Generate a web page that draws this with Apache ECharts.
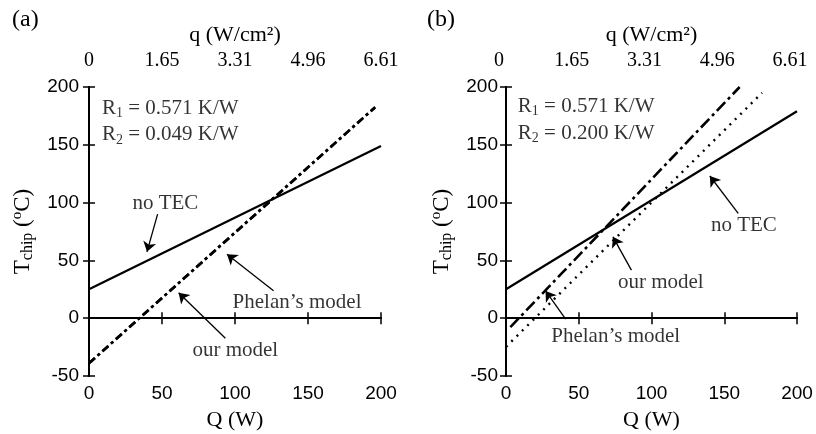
<!DOCTYPE html>
<html>
<head>
<meta charset="utf-8">
<script src="https://cdn.jsdelivr.net/npm/echarts@6/dist/echarts.min.js"></script>
<style>
  html, body { margin: 0; padding: 0; background: #fff; }
  #chart { width: 816px; height: 434px; }
</style>
</head>
<body>
<div id="chart"></div>
<script>
// Chip temperature versus heat load Q, with and without a thermoelectric cooler.
// Panel (a): R2 = 0.049 K/W, panel (b): R2 = 0.200 K/W.

// Top-axis heat flux labels (q = Q / chip area) at Q = 0, 50, 100, 150, 200 W
const qTickLabels = ['0', '1.65', '3.31', '4.96', '6.61'];

// Panel (a)
const aNoTecQ = [0, 200];
const aNoTecT = [25, 149];
const aModelQ = [0, 196];
const aOurModelT = [-39, 182.5];
const aPhelanT = [-39, 182.5];

// Panel (b)
const bNoTecQ = [0, 200];
const bNoTecT = [25, 179];
const bOurModelQ = [0, 176];
const bOurModelT = [-24.8, 195];
const bPhelanQ = [3, 160.6];
const bPhelanT = [-7.7, 200];

const SERIF = 'Liberation Serif';
const SANS = 'Liberation Sans';
const pts = (xs, ys) => xs.map((x, i) => [x, ys[i]]);

const chart = echarts.init(document.getElementById('chart'), null, { renderer: 'canvas' });

const frameLine = { lineStyle: { color: '#000', width: 2 } };
const inTick = { show: true, inside: true, length: 6, lineStyle: { color: '#000', width: 1.5 } };

function bottomAxis(grid) {
  return {
    type: 'value', gridIndex: grid, position: 'bottom', min: 0, max: 200, interval: 50,
    axisLine: frameLine, axisTick: inTick, splitLine: { show: false },
    axisLabel: { fontFamily: SANS, fontSize: 19, color: '#000', margin: 8 },
    name: 'Q (W)', nameLocation: 'middle', nameGap: 33,
    nameTextStyle: { fontFamily: SERIF, fontSize: 22, color: '#000' }
  };
}
function topAxis(grid, shift) {
  return {
    type: 'value', gridIndex: grid, position: 'top', min: 0, max: 200, interval: 50,
    axisLine: frameLine, axisTick: inTick, splitLine: { show: false },
    axisLabel: {
      fontFamily: SERIF, fontSize: 20, color: '#000', margin: 16,
      padding: [0, shift, 0, 0],
      formatter: v => qTickLabels[Math.round(v / 50)]
    },
    name: 'q (W/cm²)', nameLocation: 'middle', nameGap: 36,
    nameTextStyle: { fontFamily: SERIF, fontSize: 22, color: '#000' }
  };
}
function leftAxis(grid, gap, margin) {
  return {
    type: 'value', gridIndex: grid, position: 'left', min: -50, max: 200, interval: 50,
    axisLine: frameLine, axisTick: inTick, splitLine: { show: false },
    axisLabel: { fontFamily: SANS, fontSize: 19, color: '#000', margin: margin },
    name: '{m|T}{sub|chip}{m| (}{sup|o}{m|C)}', nameLocation: 'middle', nameGap: gap,
    nameTextStyle: {
      color: '#000',
      rich: {
        m: { fontFamily: SERIF, fontSize: 23, lineHeight: 26, verticalAlign: 'middle', color: '#000' },
        sub: { fontFamily: SERIF, fontSize: 16, lineHeight: 16, verticalAlign: 'bottom', padding: [12, 0, 0, 0], color: '#000' },
        sup: { fontFamily: SERIF, fontSize: 15, lineHeight: 15, verticalAlign: 'top', color: '#000' }
      }
    }
  };
}
function rightAxis(grid) {
  return {
    type: 'value', gridIndex: grid, position: 'right', min: -50, max: 200, interval: 50,
    axisLine: frameLine, axisTick: inTick, splitLine: { show: false },
    axisLabel: { show: false }
  };
}

const curveStyle = (type, width) => ({ color: '#000', width: width, type: type });

function arrows(list) {
  return {
    silent: true, symbol: ['none', 'arrow'], symbolSize: 10, animation: false,
    lineStyle: { color: '#000', width: 1.3, type: 'solid' },
    label: { show: false }, emphasis: { disabled: true },
    data: list.map(a => [{ coord: a[0] }, { coord: a[1] }])
  };
}

const noteRich = {
  m: { fontFamily: SERIF, fontSize: 21, color: '#000', lineHeight: 24 },
  sub: { fontFamily: SERIF, fontSize: 14, color: '#000', lineHeight: 14, verticalAlign: 'bottom', padding: [10, 0, 0, 0] }
};

function notes(xi, yi, list) {
  return {
    type: 'scatter', xAxisIndex: xi, yAxisIndex: yi, symbolSize: 0, silent: true, z: 5,
    data: list.map(n => ({
      value: n.at,
      label: {
        show: true, position: n.pos || 'inside', distance: 0,
        formatter: n.text, rich: noteRich, color: '#000'
      }
    }))
  };
}

const option = {
  backgroundColor: '#fff',
  animation: false,
  title: [
    { text: '(a)', left: 12, top: 8, padding: 0, textStyle: { fontFamily: SERIF, fontSize: 24, fontWeight: 'normal', color: '#000' } },
    { text: '(b)', left: 427, top: 8, padding: 0, textStyle: { fontFamily: SERIF, fontSize: 24, fontWeight: 'normal', color: '#000' } }
  ],
  grid: [
    { left: 89, top: 87, width: 292, height: 289, outerBoundsMode: 'none' },
    { left: 506, top: 87, width: 291, height: 289, outerBoundsMode: 'none' }
  ],
  xAxis: [bottomAxis(0), topAxis(0, 0), bottomAxis(1), topAxis(1, 14)],
  yAxis: [leftAxis(0, 53, 10), rightAxis(0), leftAxis(1, 51, 8), rightAxis(1)],
  series: [
    // Panel (a)
    {
      name: 'no TEC', type: 'line', xAxisIndex: 0, yAxisIndex: 0, showSymbol: false, silent: true,
      data: pts(aNoTecQ, aNoTecT), lineStyle: curveStyle('solid', 2.2),
      markLine: arrows([
        [[47, 90], [39.7, 57.4]],
        [[126.4, 23.8], [94.5, 55.4]],
        [[93.4, -17.4], [61.4, 22]]
      ])
    },
    {
      name: "Phelan's model", type: 'line', xAxisIndex: 0, yAxisIndex: 0, showSymbol: false, silent: true,
      data: pts(aModelQ, aPhelanT), lineStyle: curveStyle([8, 3.5, 3, 3.5], 2.6)
    },
    {
      name: 'our model', type: 'line', xAxisIndex: 0, yAxisIndex: 0, showSymbol: false, silent: true,
      data: pts(aModelQ, aOurModelT), lineStyle: curveStyle([8, 3.5, 3, 3.5], 2.6)
    },
    notes(0, 0, [
      { at: [8.9, 181.6], pos: 'right', text: '{m|R}{sub|1}{m| = 0.571 K/W}' },
      { at: [8.9, 158.5], pos: 'right', text: '{m|R}{sub|2}{m| = 0.049 K/W}' },
      { at: [52.3, 99.6], text: '{m|no TEC}' },
      { at: [142.5, 14], text: "{m|Phelan’s model}" },
      { at: [100.2, -27.5], text: '{m|our model}' }
    ]),
    // Panel (b)
    {
      name: 'no TEC', type: 'line', xAxisIndex: 2, yAxisIndex: 2, showSymbol: false, silent: true,
      data: pts(bNoTecQ, bNoTecT), lineStyle: curveStyle('solid', 2.2),
      markLine: arrows([
        [[159.6, 90.7], [140.1, 123]],
        [[86.2, 41.6], [73.5, 70.4]],
        [[41, -0.9], [27.2, 23.6]]
      ])
    },
    {
      name: "Phelan's model", type: 'line', xAxisIndex: 2, yAxisIndex: 2, showSymbol: false, silent: true,
      data: pts(bPhelanQ, bPhelanT), lineStyle: curveStyle([12, 4, 3, 4], 2.6)
    },
    {
      name: 'our model', type: 'line', xAxisIndex: 2, yAxisIndex: 2, showSymbol: false, silent: true,
      data: pts(bOurModelQ, bOurModelT), lineStyle: curveStyle([2, 5.5], 2.4)
    },
    notes(2, 2, [
      { at: [8.1, 183], pos: 'right', text: '{m|R}{sub|1}{m| = 0.571 K/W}' },
      { at: [8.1, 160], pos: 'right', text: '{m|R}{sub|2}{m| = 0.200 K/W}' },
      { at: [163.5, 80.6], text: '{m|no TEC}' },
      { at: [106.4, 31], text: '{m|our model}' },
      { at: [75.4, -15.5], text: "{m|Phelan’s model}" }
    ])
  ]
};

chart.setOption(option);
</script>
</body>
</html>
